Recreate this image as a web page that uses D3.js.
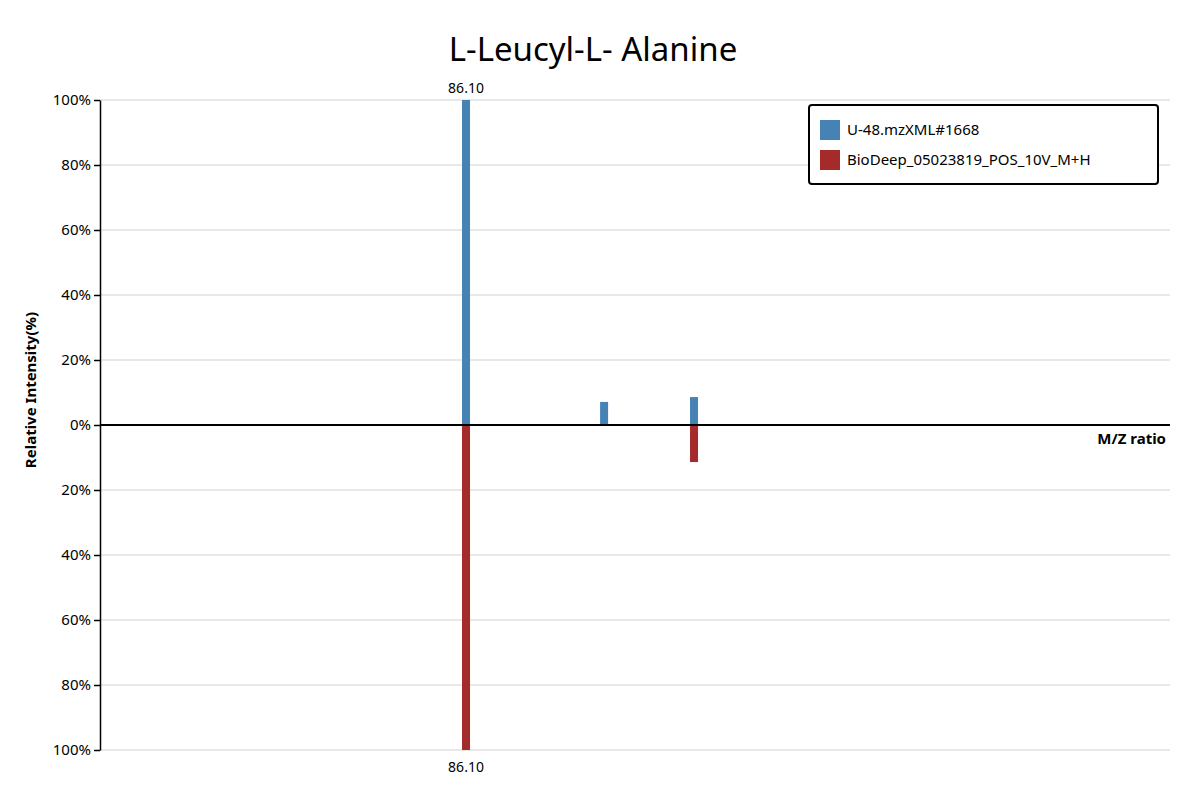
<!DOCTYPE html>
<html><head><meta charset="utf-8">
<script src="https://cdn.jsdelivr.net/npm/d3@7"></script>
<style>body{margin:0;background:#fff;font-family:"Noto Sans",sans-serif;}</style>
</head><body><svg id="chart" width="1200" height="800"></svg>
<script>
"use strict"
const title = "L-Leucyl-L- Alanine";
const seriesNames = ["U-48.mzXML#1668", "BioDeep_05023819_POS_10V_M+H"];
const seriesColors = ["#4682b4", "#a52a2a"];
const queryMz = [86.10, 129.7, 158.1];
const queryIntensity = [100, 7.1, 8.6];
const refMz = [86.10, 158.1];
const refIntensity = [100, 11.4];
const yTicks = [0, 20, 40, 60, 80, 100];

const svg = d3.select('#chart');
const L = 100, R = 1170, T = 100, B = 750, Z = 425;
const x = d3.scaleLinear().domain([-29.48, 308.4]).range([L, R]);
const yUp = d3.scaleLinear().domain([0, 100]).range([Z, T]);
const yDown = d3.scaleLinear().domain([0, 100]).range([Z, B]);

svg.append('text').attr('x', 593).attr('y', 61).attr('text-anchor', 'middle')
    .style('font-size', '33px').text(title);

// grid lines
[yUp, yDown].forEach(s => {
    svg.append('g').selectAll('line').data(yTicks.slice(1)).enter().append('line')
        .attr('x1', L).attr('x2', R).attr('y1', s).attr('y2', s)
        .attr('stroke', '#e0e0e0').attr('stroke-width', 1.5);
});

// y axes
[yUp, yDown].forEach((s, i) => {
    const g = svg.append('g').attr('transform', `translate(${L},0)`)
        .call(d3.axisLeft(s).tickValues(i === 0 ? yTicks : yTicks.slice(1)).tickFormat(d => d + '%').tickSizeOuter(0));
    g.selectAll('text').style('font-size', '15px').style('font-family', '"Noto Sans",sans-serif').attr('fill', '#000');
    g.selectAll('line, path').attr('stroke', '#000').attr('stroke-width', 1.5);
});

const bw = 8;
svg.append('g').selectAll('rect').data(queryMz.map((m, i) => [m, queryIntensity[i]])).enter().append('rect')
    .attr('x', d => x(d[0]) - bw/2).attr('width', bw)
    .attr('y', d => yUp(d[1])).attr('height', d => Z - yUp(d[1]))
    .attr('fill', seriesColors[0]);
svg.append('g').selectAll('rect').data(refMz.map((m, i) => [m, refIntensity[i]])).enter().append('rect')
    .attr('x', d => x(d[0]) - bw/2).attr('width', bw)
    .attr('y', Z).attr('height', d => yDown(d[1]) - Z)
    .attr('fill', seriesColors[1]);

// peak labels for max peaks
svg.append('text').attr('x', x(queryMz[0])).attr('y', T - 7).attr('text-anchor', 'middle')
    .style('font-size', '14px').text(queryMz[0].toFixed(2));
svg.append('text').attr('x', x(refMz[0])).attr('y', B + 22).attr('text-anchor', 'middle')
    .style('font-size', '14px').text(refMz[0].toFixed(2));

// zero axis
svg.append('line').attr('x1', L).attr('x2', R).attr('y1', Z).attr('y2', Z)
    .attr('stroke', '#000').attr('stroke-width', 2);
svg.append('text').attr('x', 1166).attr('y', 444).attr('text-anchor', 'end')
    .style('font-size', '15px').style('font-weight', 'bold').text('M/Z ratio');
svg.append('text').attr('transform', 'translate(36,390) rotate(-90)').attr('text-anchor', 'middle')
    .style('font-size', '15px').style('font-weight', 'bold').text('Relative Intensity(%)');

// legend
const lg = svg.append('g');
lg.append('rect').attr('x', 809).attr('y', 105).attr('width', 349).attr('height', 79).attr('rx', 3)
    .attr('fill', '#fff').attr('stroke', '#000').attr('stroke-width', 2);
seriesNames.forEach((n, i) => {
    lg.append('rect').attr('x', 820).attr('y', 120 + i * 30).attr('width', 20).attr('height', 20).attr('fill', seriesColors[i]);
    lg.append('text').attr('x', 847).attr('y', 135 + i * 30).style('font-size', '15px').text(n);
});
</script></body></html>
